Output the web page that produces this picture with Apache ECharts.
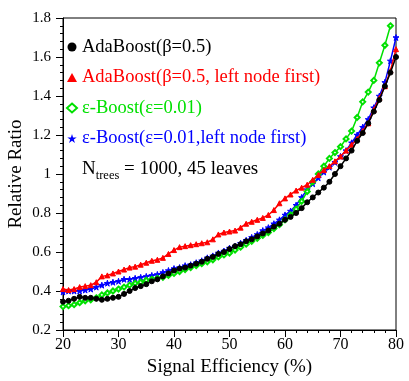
<!DOCTYPE html>
<html>
<head>
<meta charset="utf-8">
<script src="https://cdn.jsdelivr.net/npm/echarts@6/dist/echarts.min.js"></script>
<style>
  html, body { margin: 0; padding: 0; background: #fff; }
  #chart { width: 409px; height: 381px; }
</style>
</head>
<body>
<div id="chart"></div>
<script>
// signal efficiency (%) sample points
var effic = [20,21,22,23,24,25,26,27,28,29,30,31,32,33,34,35,36,37,38,39,40,
  41,42,43,44,45,46,47,48,49,50,51,52,53,54,55,56,57,58,59,60,
  61,62,63,64,65,66,67,68,69,70,71,72,73,74,75,76,77,78,79,80];

var adaBoost = [0.345,0.35,0.36,0.37,0.365,0.365,0.36,0.355,0.36,0.365,0.37,
  0.385,0.40,0.415,0.425,0.435,0.45,0.46,0.475,0.49,0.505,
  0.515,0.52,0.53,0.54,0.55,0.565,0.575,0.59,0.60,0.615,
  0.63,0.64,0.655,0.665,0.68,0.695,0.71,0.73,0.745,0.765,
  0.78,0.80,0.825,0.855,0.88,0.905,0.93,0.96,1.00,1.04,
  1.08,1.12,1.17,1.21,1.26,1.32,1.38,1.45,1.52,1.60];

var adaBoostLeft = [0.41,0.405,0.41,0.42,0.425,0.43,0.445,0.475,0.48,0.49,0.50,
  0.51,0.52,0.525,0.535,0.545,0.555,0.56,0.57,0.59,0.61,
  0.625,0.63,0.635,0.64,0.645,0.65,0.665,0.69,0.70,0.705,
  0.71,0.725,0.745,0.755,0.765,0.775,0.79,0.815,0.85,0.875,
  0.895,0.915,0.93,0.945,0.97,0.995,1.02,1.04,1.065,1.09,
  1.12,1.15,1.18,1.22,1.26,1.33,1.39,1.45,1.53,1.64];

var epsBoost = [0.32,0.325,0.33,0.34,0.35,0.355,0.365,0.38,0.39,0.40,0.41,
  0.42,0.43,0.44,0.445,0.455,0.46,0.465,0.47,0.48,0.49,
  0.50,0.51,0.52,0.53,0.54,0.55,0.56,0.575,0.585,0.595,
  0.61,0.625,0.64,0.655,0.67,0.685,0.70,0.72,0.74,0.765,
  0.79,0.82,0.86,0.91,0.96,1.00,1.04,1.08,1.11,1.14,
  1.18,1.22,1.29,1.37,1.42,1.48,1.57,1.66,1.76,null];

var epsBoostLeft = [0.395,0.40,0.40,0.40,0.405,0.41,0.42,0.43,0.44,0.445,0.45,
  0.46,0.46,0.465,0.47,0.475,0.48,0.485,0.495,0.505,0.515,
  0.52,0.53,0.535,0.545,0.555,0.57,0.58,0.595,0.605,0.62,
  0.63,0.645,0.66,0.675,0.69,0.71,0.725,0.745,0.765,0.79,
  0.81,0.84,0.88,0.92,0.95,0.98,1.01,1.035,1.06,1.09,
  1.12,1.16,1.20,1.24,1.28,1.34,1.40,1.47,1.58,1.70];

var names = ['AdaBoost(β=0.5)', 'AdaBoost(β=0.5, left node first)',
  'ε-Boost(ε=0.01)', 'ε-Boost(ε=0.01,left node first)'];
var colors = ['#000000', '#ff0000', '#00e000', '#0000ff'];

var star = 'path://M0,-1L0.22,-0.31L0.95,-0.31L0.36,0.12L0.59,0.81L0,0.38L-0.59,0.81L-0.36,0.12L-0.95,-0.31L-0.22,-0.31Z';
var symbols = ['circle', 'triangle', 'emptyDiamond', star];

function pairs(ys) {
  return effic.map(function (x, i) { return [x, ys[i]]; });
}

var font = 'Liberation Serif';
var chart = echarts.init(document.getElementById('chart'));

var seriesData = [adaBoost, adaBoostLeft, epsBoost, epsBoostLeft];
var series = seriesData.map(function (d, i) {
  return {
    name: names[i],
    type: 'line',
    data: pairs(d),
    symbol: symbols[i],
    symbolSize: i == 3 ? 6 : 5,
    showAllSymbol: true,
    connectNulls: false,
    color: colors[i],
    lineStyle: { width: 1.5, color: colors[i] },
    itemStyle: { color: colors[i], borderColor: colors[i] },
    animation: false,
    z: 4 - i
  };
});

var option = {
  backgroundColor: '#fff',
  animation: false,
  grid: {
    left: 63, right: 13, top: 18, bottom: 51,
    outerBoundsMode: 'none',
    containLabel: false,
    show: true, borderColor: '#000', borderWidth: 1
  },
  legend: {
    orient: 'vertical',
    left: 61, top: 32,
    itemWidth: 10, itemHeight: 9,
    itemGap: 10.5,
    data: names.map(function (n, i) {
      return { name: n, icon: symbols[i], textStyle: { color: colors[i] } };
    }),
    textStyle: { fontFamily: font, fontSize: 18.5, lineHeight: 20 }
  },
  xAxis: {
    type: 'value', min: 20, max: 80, interval: 10,
    name: 'Signal Efficiency (%)', nameLocation: 'middle', nameGap: 28,
    nameTextStyle: { fontFamily: font, fontSize: 19, color: '#000' },
    axisLine: { lineStyle: { color: '#000' } },
    axisTick: { length: 7, lineStyle: { color: '#000' } },
    minorTick: { show: true, splitNumber: 5, length: 3, lineStyle: { color: '#000' } },
    axisLabel: { fontFamily: font, fontSize: 16, color: '#000', margin: 7 },
    splitLine: { show: false }
  },
  yAxis: {
    type: 'value', min: 0.2, max: 1.8, interval: 0.2,
    name: 'Relative Ratio', nameLocation: 'middle', nameGap: 37,
    nameMoveOverlap: false,
    nameTextStyle: { fontFamily: font, fontSize: 19, color: '#000' },
    axisLine: { lineStyle: { color: '#000' } },
    axisTick: { length: 7, lineStyle: { color: '#000' } },
    minorTick: { show: true, splitNumber: 5, length: 3, lineStyle: { color: '#000' } },
    axisLabel: {
      fontFamily: font, fontSize: 15, color: '#000', margin: 12,
      formatter: function (v) { return String(+v.toFixed(1)); }
    },
    splitLine: { show: false }
  },
  graphic: [{
    type: 'text',
    left: 82, top: 160,
    style: {
      text: '{n|N}{s|trees}{n| = 1000, 45 leaves}',
      rich: {
        n: { fontFamily: font, fontSize: 19, fill: '#000', lineHeight: 26, verticalAlign: 'middle' },
        s: { fontFamily: font, fontSize: 12.5, fill: '#000', lineHeight: 26, verticalAlign: 'bottom', padding: [9, 0, 0, 0] }
      }
    }
  }],
  series: series
};

chart.setOption(option);
</script>
</body>
</html>
